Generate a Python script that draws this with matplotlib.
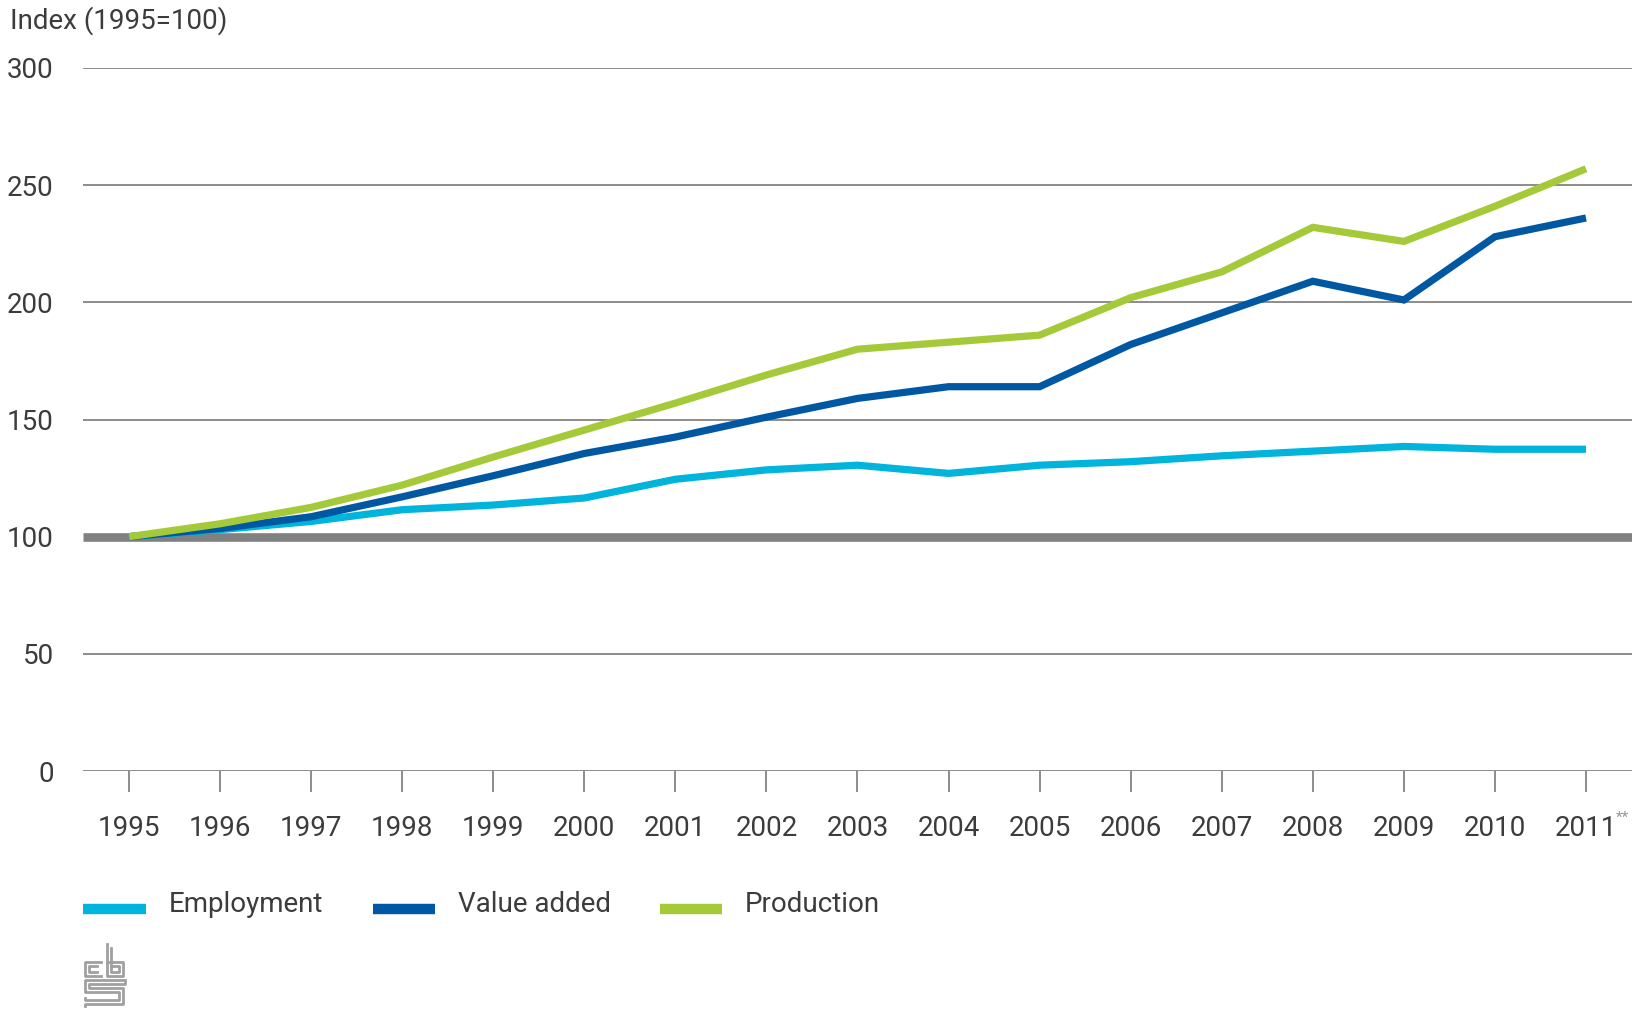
"""
plot.py
Index of employment, value added and production (1995=100), 1995-2011.
"""
import matplotlib
matplotlib.use("Agg")
import matplotlib.pyplot as plt
from matplotlib.lines import Line2D

years = list(range(1995, 2012))
year_labels = [str(y) for y in years]
employment = [100, 103, 106.5, 111.5, 113.5, 116.5, 124.5, 128.5, 130.5, 127,
              130.5, 132, 134.5, 136.5, 138.5, 137.3, 137.3]
value_added = [100, 103.5, 108.5, 117, 126, 135.5, 142.5, 151, 159, 164,
               164, 182, 195.5, 209, 201, 228, 236]
production = [100, 105.5, 112.5, 122, 134, 145.5, 157, 169, 180, 183,
              186, 202, 213, 232, 226, 241, 257]
series_names = ["Employment", "Value added", "Production"]
colors = ["#00b4dc", "#0058a2", "#a5ca39"]
y_ticks = [0, 50, 100, 150, 200, 250, 300]

W, H = 1633, 1010
plt.rcParams['font.family'] = ['Roboto', 'DejaVu Sans']
plt.rcParams['font.weight'] = 'normal'
text_color = "#3c3c3c"
grid_color = "#8c8c8c"
fs = 20

fig = plt.figure(figsize=(W / 100, H / 100), dpi=100)
# axes placed in pixel terms: left 83, right 1633, y=0 at 771, y=300 at 68
ax = fig.add_axes([83 / W, (H - 771) / H, (W - 83) / W, (771 - 68) / H])

for y in y_ticks:
    if y == 100:
        ax.axhline(y, color="#808080", lw=6.2, zorder=2, solid_capstyle='butt')
    else:
        ax.axhline(y, color=grid_color, lw=1.4, zorder=1)

for vals, name, col in zip([employment, value_added, production], series_names, colors):
    ax.plot(years, vals, color=col, lw=5.2, label=name, zorder=3,
            solid_joinstyle='miter', solid_capstyle='butt')

ax.set_xlim(1995 - 46 / 91.06, 2011 + 47 / 91.06)
ax.set_ylim(0, 300)
for s in ax.spines.values():
    s.set_visible(False)

ax.set_xticks(years)
ax.set_xticklabels(year_labels)
ax.set_yticks(y_ticks)
ax.tick_params(axis='x', direction='out', length=15, width=1.4, color=grid_color,
               pad=17, labelsize=fs, labelcolor=text_color)
ax.tick_params(axis='y', length=0, pad=21, labelsize=fs, labelcolor=text_color)
for lbl in ax.get_yticklabels():
    lbl.set_horizontalalignment('right')

# footnote marks after 2011
fig.text(1616 / W, 1 - 818 / H, "**", fontsize=11, color="#9a9a9a",
         ha='left', va='center')

fig.text(10 / W, 1 - 21 / H, "Index (1995=100)", fontsize=fs, color=text_color,
         ha='left', va='center')

# legend
legend_y = 1 - 904 / H
legend_items = [(83, 146, 169), (373, 435, 458), (660, 722, 745)]
for (x0, x1, tx), name, col in zip(legend_items, series_names, colors):
    fig.add_artist(Line2D([x0 / W, x1 / W], [1 - 909 / H, 1 - 909 / H],
                          color=col, lw=7.5, solid_capstyle='butt'))
    fig.text(tx / W, legend_y, name, fontsize=fs, color=text_color,
             ha='left', va='center')

# rough cbs logo
logo = fig.add_axes([83 / W, (H - 1008) / H, 44 / W, 66 / H])
logo.set_xlim(0, 44)
logo.set_ylim(0, 66)
logo.axis('off')
lc = "#a0a0a0"
lw = 2.0
# "c"
logo.plot([18, 2, 2, 18], [46, 46, 32, 32], color=lc, lw=lw)
logo.plot([14, 6, 6, 14], [42, 42, 36, 36], color=lc, lw=lw)
# "b"
logo.plot([24, 24, 40, 40, 24], [64, 32, 32, 46, 46], color=lc, lw=lw)
logo.plot([28, 28, 36, 36, 28], [60, 36, 36, 42, 42], color=lc, lw=lw)
# "s"
logo.plot([40, 2, 2, 36, 36, 2, 2], [28, 28, 16, 16, 8, 8, 10], color=lc, lw=lw)
logo.plot([42, 42, 6, 6, 40, 40, 2, 2], [28, 24, 24, 20, 20, 4, 4, 2], color=lc, lw=lw)

fig.savefig("out.png", dpi=100)
